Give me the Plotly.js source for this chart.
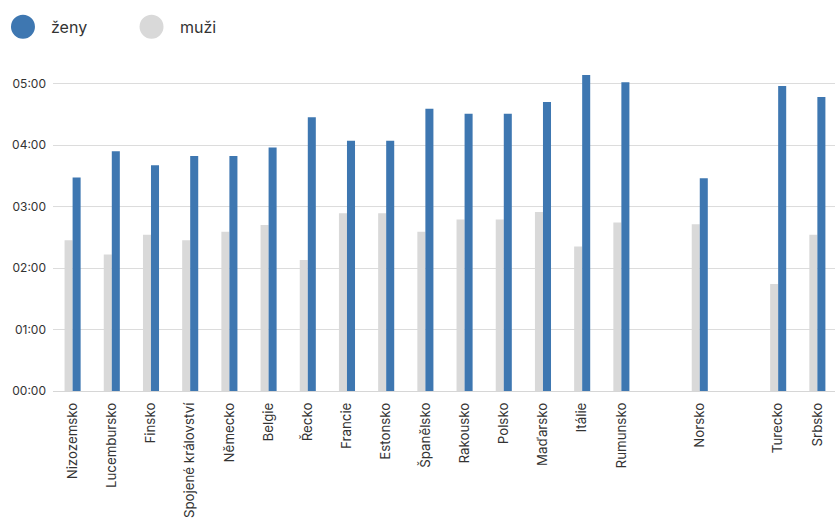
<!DOCTYPE html>
<html>
<head>
<meta charset="utf-8">
<script src="https://cdn.plot.ly/plotly-3.0.1.min.js"></script>
<style>html,body{margin:0;padding:0;background:#fff;}#chart{width:835px;height:524px;}</style>
</head>
<body>
<div id="chart"></div>
<script>
// Categories (blank entries are empty gap slots in the original chart)
const countries = ["Nizozemsko","Lucembursko","Finsko","Spojené království","Německo","Belgie","Řecko","Francie","Estonsko","Španělsko","Rakousko","Polsko","Maďarsko","Itálie","Rumunsko"," ","Norsko","  ","Turecko","Srbsko"];
// Time per day, in hours
const zeny = [3.47,3.90,3.67,3.82,3.82,3.96,4.45,4.07,4.07,4.59,4.51,4.51,4.70,5.14,5.02,null,3.46,null,4.96,4.78];
const muzi = [2.45,2.22,2.54,2.45,2.59,2.70,2.13,2.89,2.89,2.59,2.79,2.79,2.91,2.35,2.74,null,2.71,null,1.74,2.54];
const yTickVals = [0,1,2,3,4,5];
const yTickText = ["00:00","01:00","02:00","03:00","04:00","05:00"];
const seriesNames = ["ženy","muži"];
const colZeny = "#3e77b1";
const colMuzi = "#d9d9d9";
const highlightLine = 3;

const font = "Inter, 'Noto Sans', sans-serif";

const traces = [
  {type:"bar", x:countries, y:muzi, name:seriesNames[1], marker:{color:colMuzi}, showlegend:false, hoverinfo:"x+y"},
  {type:"bar", x:countries, y:zeny, name:seriesNames[0], marker:{color:colZeny}, showlegend:false, hoverinfo:"x+y"}
];

const layout = {
  width:835, height:524,
  margin:{l:53, r:0, t:70, b:133},
  paper_bgcolor:"#fff", plot_bgcolor:"#fff",
  font:{family:font, color:"#333", size:12},
  barmode:"group", bargap:0.59, bargroupgap:0,
  showlegend:false,
  xaxis:{type:"category", tickangle:-90, range:[-0.5,19.45], showgrid:false, showline:false, zeroline:false,
         ticks:"", tickfont:{size:13.3, color:"#333", family:font}, ticklabelstandoff:8, fixedrange:true, automargin:false},
  yaxis:{range:[0,5.22], tickvals:yTickVals, ticktext:yTickText, showgrid:true, gridcolor:"#dcdcdc", gridwidth:1,
         zeroline:true, zerolinecolor:"#d6d6d6", zerolinewidth:1, showline:false, ticks:"",
         tickfont:{size:12, color:"#333", family:font}, ticklabelstandoff:6, fixedrange:true, automargin:false},
  shapes:[
    {type:"line", xref:"paper", yref:"y", x0:0, x1:1, y0:highlightLine, y1:highlightLine, line:{color:"#9a9a9a", width:1}, layer:"below"},
    {type:"circle", xref:"paper", yref:"paper", xsizemode:"pixel", ysizemode:"pixel", xanchor:-0.0384, yanchor:1.135,
     x0:-12, x1:12, y0:-12, y1:12, fillcolor:colZeny, line:{width:0}},
    {type:"circle", xref:"paper", yref:"paper", xsizemode:"pixel", ysizemode:"pixel", xanchor:0.126, yanchor:1.135,
     x0:-12, x1:12, y0:-12, y1:12, fillcolor:colMuzi, line:{width:0}}
  ],
  annotations:[
    {xref:"paper", yref:"paper", x:-0.0045, y:1.135, xanchor:"left", yanchor:"middle", text:seriesNames[0], showarrow:false, font:{size:16, color:"#333", family:font}},
    {xref:"paper", yref:"paper", x:0.160, y:1.135, xanchor:"left", yanchor:"middle", text:seriesNames[1], showarrow:false, font:{size:16, color:"#333", family:font}}
  ]
};

Plotly.newPlot("chart", traces, layout, {displayModeBar:false, staticPlot:true});
</script>
</body>
</html>
